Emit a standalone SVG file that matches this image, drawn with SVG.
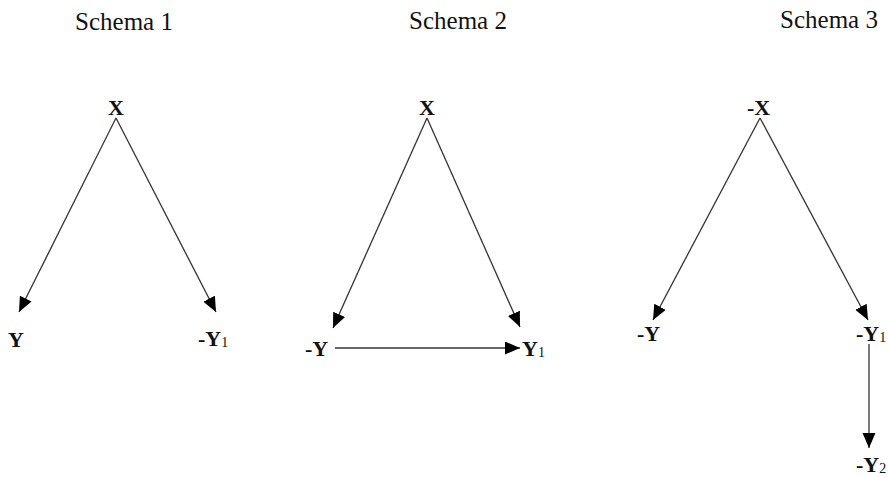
<svg xmlns="http://www.w3.org/2000/svg" width="888" height="477" viewBox="0 0 888 477">
<style>
.title{font-family:"Liberation Serif","Times New Roman",serif;font-size:25px;fill:#111;}
.lbl{font-family:"Liberation Serif","Times New Roman",serif;font-size:22px;font-weight:bold;fill:#111;}
.sub{font-size:14px;font-weight:normal;}
.edge{stroke:#333;stroke-width:1.3;fill:none;marker-end:url(#ah);}
</style>
<defs>
<marker id="ah" markerUnits="userSpaceOnUse" markerWidth="16" markerHeight="14" refX="15" refY="6.5" orient="auto">
<path d="M0,0 L15,6.5 L0,13 z" fill="#000"/>
</marker>
</defs>
<rect width="888" height="477" fill="#fff"/>
<g id="titles">
<text class="title" x="124" y="30" text-anchor="middle">Schema 1</text>
<text class="title" x="458" y="29" text-anchor="middle">Schema 2</text>
<text class="title" x="829" y="28" text-anchor="middle">Schema 3</text>
</g>
<g id="connectors">
<line class="edge" x1="116" y1="118" x2="19" y2="312"/>
<line class="edge" x1="116" y1="118" x2="216" y2="312"/>
<line class="edge" x1="427" y1="118" x2="333" y2="328"/>
<line class="edge" x1="427" y1="118" x2="520" y2="327"/>
<line class="edge" x1="335" y1="348" x2="520" y2="348"/>
<line class="edge" x1="760" y1="118" x2="653" y2="320"/>
<line class="edge" x1="760" y1="118" x2="868" y2="320"/>
<line class="edge" x1="869" y1="344" x2="869" y2="448"/>
</g>
<g id="s1-x"><text class="lbl" x="116" y="115" text-anchor="middle">X</text></g>
<g id="s1-y"><text class="lbl" x="16" y="347" text-anchor="middle">Y</text></g>
<g id="s1-y1"><text class="lbl" x="198" y="346">-Y<tspan class="sub" dy="1">1</tspan></text></g>
<g id="s2-x"><text class="lbl" x="427" y="115" text-anchor="middle">X</text></g>
<g id="s2-y"><text class="lbl" x="305" y="356">-Y</text></g>
<g id="s2-y1"><text class="lbl" x="522" y="356">Y<tspan class="sub" dy="1">1</tspan></text></g>
<g id="s3-x"><text class="lbl" x="747" y="115">-X</text></g>
<g id="s3-y"><text class="lbl" x="637" y="341">-Y</text></g>
<g id="s3-y1"><text class="lbl" x="856" y="341">-Y<tspan class="sub" dy="1">1</tspan></text></g>
<g id="s3-y2"><text class="lbl" x="856" y="472">-Y<tspan class="sub" dy="1">2</tspan></text></g>
</svg>
